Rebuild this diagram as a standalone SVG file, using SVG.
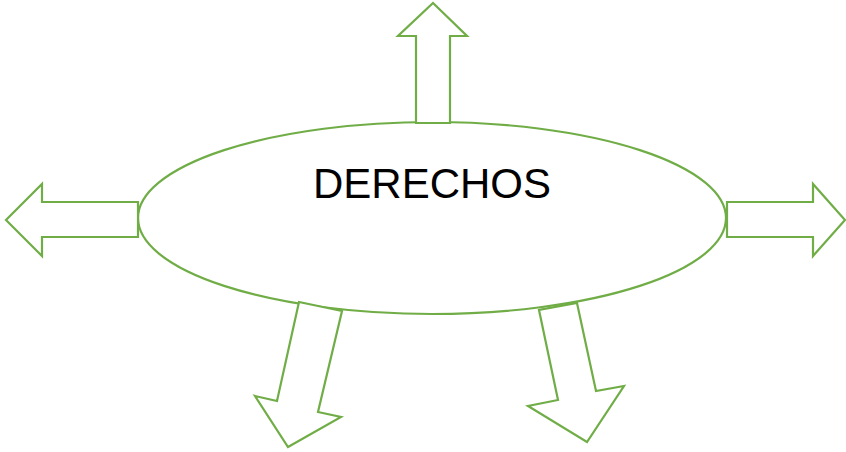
<svg xmlns="http://www.w3.org/2000/svg" width="846" height="452" viewBox="0 0 846 452">
<style>
.s{fill:#ffffff;stroke:#70AD47;stroke-width:2.2;stroke-linejoin:miter}
.t{font-family:"Liberation Sans",Arial,sans-serif;font-size:42px;fill:#000000}
</style>
<rect width="846" height="452" fill="#ffffff"/>
<g id="center">
<ellipse class="s" cx="432" cy="218" rx="294" ry="96"/>
<text class="t" x="432" y="198" text-anchor="middle">DERECHOS</text>
</g>
<g id="connectors">
<polygon class="s" points="416,123 416,36 398,36 433,3 467,36 450,36 450,123"/>
<polygon class="s" points="138,202 42,202 42,184 6,220 42,256 42,237 138,237"/>
<polygon class="s" points="727,202 813,202 813,184 845,220 813,256 813,237 727,237"/>
<polygon class="s" points="299,302 277,401 255,396 288,447 341,417 318,412 342,311"/>
<polygon class="s" points="539,310 558,400 528,406 587,442 624,386 596,391 577,303"/>
</g>
</svg>
